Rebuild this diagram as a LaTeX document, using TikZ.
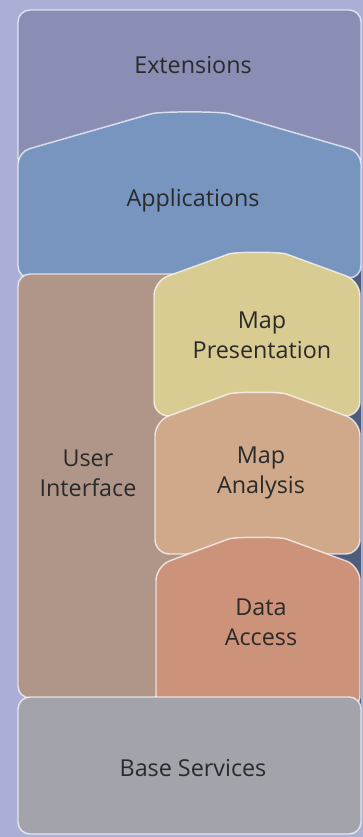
\documentclass[tikz,border=0pt]{standalone}
\usepackage{fontspec}
\setmainfont{Open Sans}
\definecolor{backfill}{HTML}{ABAFD5}
\definecolor{gapfill}{HTML}{4F5D7C}
\definecolor{extfill}{HTML}{8A8EB4}
\definecolor{appfill}{HTML}{7895C0}
\definecolor{uifill}{HTML}{B09688}
\definecolor{presfill}{HTML}{D9CC92}
\definecolor{anafill}{HTML}{CFA98A}
\definecolor{datafill}{HTML}{CC927A}
\definecolor{basefill}{HTML}{A3A3AB}
\definecolor{textgray}{HTML}{2A2A2A}
\begin{document}
\begin{tikzpicture}[x=0.75pt,y=-0.75pt,
  layer/.style={draw=white,draw opacity=0.7,line width=1.1pt,rounded corners=9pt},
  caption/.style={font=\fontsize{17.5}{22.5}\selectfont,text=textgray,align=center,inner sep=0pt}]
 \fill[backfill] (0,0) rectangle (363,837);
 \useasboundingbox (0,0) rectangle (363,837);
 \fill[gapfill] (300,100) rectangle (360.5,725);
 \draw[layer,fill=extfill] (18,10) rectangle (361,170);
 \draw[layer,fill=appfill] (18,278) -- (18,152) -- (140,117) .. controls (160,111.3) and (220,111.3) .. (240,117) -- (361,152) -- (361,278) -- cycle;
 \draw[layer,fill=uifill] (18,274) rectangle (220,698);
 \draw[layer,fill=presfill,rounded corners=11pt] (154,416) -- (154,281) -- (215,259) .. controls (235,251.7) and (280,251.7) .. (300,259) -- (360,281) -- (360,416) -- cycle;
 \draw[layer,fill=anafill,rounded corners=11pt] (155,554) -- (155,421) -- (215,399) .. controls (235,391.7) and (280,391.7) .. (300,399) -- (360,421) -- (360,554) -- cycle;
 \draw[layer,fill=datafill,rounded corners=11pt] (156,710) -- (156,566) -- (215,544) .. controls (235,536.7) and (280,536.7) .. (300,544) -- (360,566) -- (360,710) -- cycle;
 \draw[layer,fill=basefill] (18,697) rectangle (361,834);
 \node[caption] (extensions) at (193,65) {Extensions};
 \node[caption] (applications) at (193,200) {Applications};
 \node[caption] (userinterface) at (88,473) {User\\Interface};
 \node[caption] (mappresentation) at (262,335) {Map\\Presentation};
 \node[caption] (mapanalysis) at (261,473) {Map\\Analysis};
 \node[caption] (dataaccess) at (261,622) {Data\\Access};
 \node[caption] (baseservices) at (193,768) {Base Services};
\end{tikzpicture}
\end{document}
